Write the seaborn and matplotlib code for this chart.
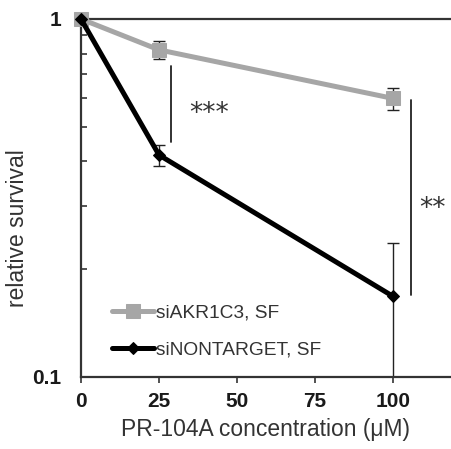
import pandas as pd
import numpy as np
import seaborn as sns
import matplotlib.pyplot as plt
from matplotlib.ticker import LogLocator, NullFormatter, FixedLocator

# data
conc = [0, 25, 100]
akr_survival = [1.0, 0.82, 0.60]
akr_err = [0.0, 0.047, 0.043]
nt_survival = [1.0, 0.417, 0.168]
nt_err = [0.0, 0.028, 0.068]
series_names = ['siAKR1C3, SF', 'siNONTARGET, SF']
x_ticks = [0, 25, 50, 75, 100]
y_ticks = [0.1, 1]
y_tick_labels = ['0.1', '1']

# significance bars: (x, y_low, y_high, label, label_x, label_baseline_y)
sig_bars = [(28.8, 0.453, 0.739, '***', 41.2, 0.519),
            (105.8, 0.169, 0.594, '**', 112.8, 0.282)]

df = pd.DataFrame({
    'conc': conc * 2,
    'survival': akr_survival + nt_survival,
    'err': akr_err + nt_err,
    'series': [series_names[0]] * 3 + [series_names[1]] * 3,
})

sns.set_theme(style="white")
plt.rcParams['font.family'] = ['Liberation Sans', 'DejaVu Sans']

fig = plt.figure(figsize=(4.51, 4.49), dpi=100)
ax = fig.add_axes([0.1796, 0.1604, 0.8204, 0.7973])

colors = {series_names[0]: '#a6a6a6', series_names[1]: '#000000'}
markers = {series_names[0]: 's', series_names[1]: 'D'}
msizes = {series_names[0]: 10, series_names[1]: 6.5}

for name in series_names:
    sub = df[df['series'] == name]
    ax.errorbar(sub['conc'], sub['survival'], yerr=sub['err'], fmt='none',
                ecolor='#222222', elinewidth=1.0, capsize=4, capthick=1.0,
                zorder=2, clip_on=True)
    sns.lineplot(data=sub, x='conc', y='survival', ax=ax, color=colors[name],
                 marker=markers[name], markersize=msizes[name],
                 markeredgecolor=colors[name], linewidth=3.6, label=name,
                 zorder=3, clip_on=False, errorbar=None)

ax.set_yscale('log')
ax.set_ylim(0.1, 1)
ax.set_xlim(0, 118.6)

ax.yaxis.set_major_locator(FixedLocator(y_ticks))
ax.set_yticklabels(y_tick_labels)
ax.yaxis.set_minor_locator(LogLocator(base=10, subs=np.arange(2, 10)))
ax.yaxis.set_minor_formatter(NullFormatter())
ax.set_xticks(x_ticks)

ax.tick_params(axis='y', which='minor', direction='in', length=4, width=1.2,
               color='#333333', left=True)
ax.tick_params(axis='y', which='major', direction='in', length=0, pad=14,
               labelsize=15, left=True)
ax.tick_params(axis='x', direction='out', length=4, width=1.2, color='#333333',
               pad=7, labelsize=15, bottom=True)
for lab in ax.get_xticklabels() + ax.get_yticklabels():
    lab.set_fontweight('bold')
    lab.set_color('#1a1a1a')

for side in ['left', 'bottom', 'top']:
    ax.spines[side].set_color('#333333')
    ax.spines[side].set_linewidth(1.6)
ax.spines['right'].set_visible(False)

for x, y0, y1, lab, lx, ly in sig_bars:
    ax.plot([x, x], [y0, y1], color='#222222', linewidth=1.3)
    ax.text(lx, ly, lab, ha='center', va='baseline', fontsize=19,
            color='#333333', family='DejaVu Sans')

ax.set_xlabel('PR-104A concentration (μM)', fontsize=16.5, color='#333333', labelpad=5)
ax.set_ylabel('relative survival', fontsize=16.5, color='#333333')
ax.yaxis.set_label_coords(-0.14, 0.416)

leg = ax.legend(loc='lower left', bbox_to_anchor=(0.062, 0.03), frameon=False,
                fontsize=13.8, handlelength=2.2, handletextpad=0.1,
                labelspacing=1.0, borderaxespad=0)
for t in leg.get_texts():
    t.set_color('#333333')

fig.savefig('out.png', dpi=100)
